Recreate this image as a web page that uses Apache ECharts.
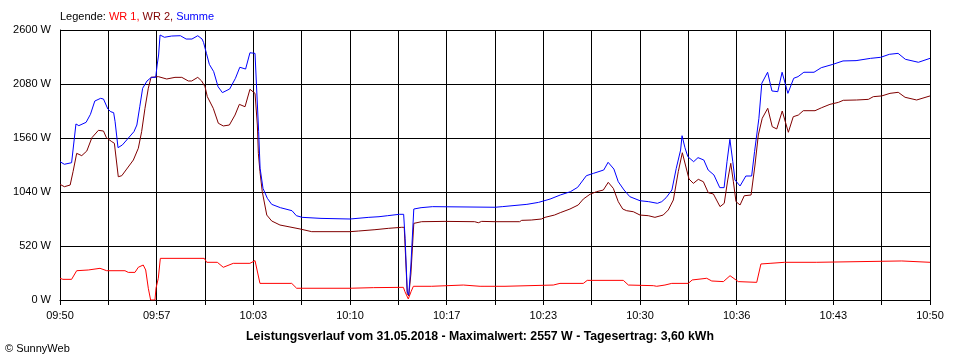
<!DOCTYPE html>
<html>
<head>
<meta charset="utf-8">
<script src="https://cdn.jsdelivr.net/npm/echarts@6/dist/echarts.min.js"></script>
<style>
html,body{margin:0;padding:0;background:#fff;}
#c{width:960px;height:360px;}
</style>
</head>
<body>
<div id="c"></div>
<script>
// Time in minutes after 09:50, power in W
var xTickLabels = ['09:50','','09:57','','10:03','','10:10','','10:17','','10:23','','10:30','','10:36','','10:43','','10:50'];
var yTickValues = [0, 520, 1040, 1560, 2080, 2600];

var wr1Time = [0,0.2,0.8,1.15,1.95,2.76,3.22,4.48,4.71,5.17,5.4,5.74,5.91,6.09,6.25,6.55,6.62,6.78,6.92,9.95,10.12,10.85,11.26,11.95,13.1,13.45,13.79,15.98,16.32,20.0,21.61,23.68,23.79,24.02,24.21,24.37,25.63,25.75,27.82,27.93,28.97,29.08,29.31,30.69,30.8,34.02,34.48,36.09,36.36,38.85,39.2,40.92,41.15,41.72,42.19,43.33,43.6,44.6,44.95,45.75,46.21,46.78,48.05,48.34,48.97,49.97,52.19,52.3,58.05,58.16,60.0];
var wr1Watt = [209,199,199,282,289,305,282,282,266,266,315,337,289,113,0,0,113,209,401,401,363,363,315,353,353,379,160,160,113,113,119,122,80,10,80,132,132,144,144,132,132,144,132,132,144,144,160,160,189,189,144,138,132,144,160,160,193,209,183,177,234,177,170,347,353,363,363,376,376,363,363];

var wr2Time = [0,0.3,0.7,0.9,1.15,1.5,1.85,2.2,2.65,3.0,3.2,3.57,3.75,4.02,4.26,4.6,5.06,5.4,5.63,5.86,6.09,6.28,6.78,7.36,7.93,8.4,8.85,9.08,9.5,9.77,10.0,10.16,10.57,10.92,11.26,11.68,12.07,12.37,12.76,13.1,13.45,13.61,13.68,13.79,13.95,14.26,14.6,15.17,15.86,16.55,17.36,20.0,20.57,21.72,22.64,23.57,23.74,23.8,23.95,24.05,24.2,24.4,24.94,26.55,28.6,28.85,29.08,30.0,31.7,31.84,32.5,33.2,33.45,34.1,34.5,35.17,35.74,36.09,36.55,37.0,37.47,37.81,38.16,38.5,38.81,39.08,39.54,40.0,40.57,41.03,41.6,41.95,42.3,42.64,42.92,43.22,43.38,43.68,44.02,44.37,44.71,45.06,45.52,45.81,46.05,46.26,46.44,46.62,46.9,47.19,47.66,47.93,48.16,48.43,48.81,49.12,49.43,49.81,50.23,50.57,50.92,51.26,52.07,52.53,53.1,53.68,54.02,54.94,55.75,56.09,56.67,57.24,57.81,58.28,59.08,60.0];
var wr2Watt = [1114,1091,1107,1236,1412,1390,1435,1563,1634,1627,1563,1525,1509,1187,1197,1261,1348,1461,1621,1846,2039,2144,2151,2128,2144,2144,2109,2109,2144,2109,2054,1958,1846,1702,1676,1685,1781,1884,1861,2029,1990,1685,1412,1236,1043,818,761,722,703,684,658,658,664,677,690,700,700,520,60,40,250,738,754,757,754,744,757,754,754,767,770,780,796,818,841,876,915,972,1018,1043,1059,1133,1075,947,876,860,850,818,812,796,818,867,963,1236,1418,1252,1165,1123,1162,1139,1033,1021,899,931,1156,1316,1139,947,915,1004,1011,1300,1589,1750,1846,1669,1647,1820,1615,1765,1781,1823,1823,1852,1884,1903,1923,1926,1932,1958,1965,1990,2000,1952,1926,1965];

var sumTime = [0,0.3,0.8,1.1,1.3,1.8,2.1,2.4,2.8,3.0,3.3,3.5,3.7,3.8,4.0,4.3,4.6,5.1,5.3,5.5,5.7,6.0,6.3,6.6,6.7,6.8,6.9,7.2,7.7,8.3,8.7,9.1,9.5,9.8,9.9,10.1,10.3,10.6,10.9,11.2,11.7,12.1,12.4,12.8,13.1,13.45,13.55,13.7,13.8,14.0,14.3,14.6,15.2,16.0,16.3,16.7,18.0,20.0,21.3,22.0,22.6,23.4,23.7,23.8,23.95,24.05,24.2,24.4,24.9,25.7,30.0,30.5,32.2,33.0,33.8,34.5,35.2,35.7,36.3,36.8,37.5,37.8,38.2,38.5,38.9,39.3,40.0,40.6,41.2,41.5,41.8,42.2,42.5,42.8,42.9,43.1,43.3,43.7,44.0,44.4,44.7,45.1,45.5,45.8,46.0,46.2,46.4,46.55,46.9,47.3,47.7,47.9,48.2,48.4,48.8,49.1,49.5,49.8,50.2,50.6,50.9,51.3,52.0,52.5,53.3,54.0,54.9,55.9,56.6,57.2,57.8,58.3,59.2,60.0];
var sumWatt = [1332,1307,1322,1695,1679,1711,1788,1916,1942,1935,1839,1813,1804,1717,1467,1493,1541,1621,1685,1861,2039,2109,2144,2144,2263,2359,2552,2530,2542,2545,2513,2513,2545,2513,2480,2375,2269,2199,2054,1997,2032,2135,2241,2224,2381,2375,2070,1621,1268,1075,979,921,889,860,812,796,786,780,796,802,812,825,825,594,80,48,337,876,889,899,893,899,921,940,972,1011,1043,1085,1197,1220,1252,1326,1261,1139,1059,995,956,947,931,947,985,1059,1268,1444,1582,1467,1380,1332,1371,1348,1252,1204,1082,1082,1332,1547,1332,1156,1098,1194,1194,1428,1750,2087,2193,2013,2006,2193,1990,2135,2151,2193,2193,2237,2269,2302,2305,2327,2337,2366,2375,2318,2289,2327];

var titleText = 'Leistungsverlauf vom 31.05.2018 - Maximalwert: 2557 W - Tagesertrag: 3,60 kWh';
var copyrightText = '\u00A9 SunnyWeb';

function pairs(t, w) {
  var out = [];
  for (var i = 0; i < t.length; i++) out.push([t[i] * 60, w[i]]);
  return out;
}

var FONT = '"Liberation Sans", Arial, sans-serif';
var chart = echarts.init(document.getElementById('c'), null, {renderer: 'canvas'});
chart.setOption({
  animation: false,
  backgroundColor: '#ffffff',
  grid: {left: 60, right: 30, top: 30, bottom: 60, containLabel: false},
  xAxis: {
    type: 'value', min: 0, max: 3600, interval: 200,
    axisLine: {show: true, lineStyle: {color: '#000', width: 1}},
    axisTick: {show: true, length: 5, lineStyle: {color: '#000'}},
    splitLine: {show: true, lineStyle: {color: '#000', width: 1}},
    axisLabel: {
      color: '#000', fontFamily: FONT, fontSize: 11, margin: 10,
      formatter: function (v) { return xTickLabels[Math.round(v / 200)] || ''; }
    }
  },
  yAxis: {
    type: 'value', min: yTickValues[0], max: yTickValues[yTickValues.length - 1], interval: 520,
    axisLine: {show: true, lineStyle: {color: '#000', width: 1}},
    axisTick: {show: false},
    splitLine: {show: true, lineStyle: {color: '#000', width: 1}},
    axisLabel: {
      color: '#000', fontFamily: FONT, fontSize: 11, margin: 9,
      formatter: function (v) { return v + ' W'; }
    }
  },
  series: [
    {name: 'WR 1', type: 'line', data: pairs(wr1Time, wr1Watt), showSymbol: false, symbol: 'none',
     lineStyle: {color: '#ff0000', width: 1}, itemStyle: {color: '#ff0000'}},
    {name: 'WR 2', type: 'line', data: pairs(wr2Time, wr2Watt), showSymbol: false, symbol: 'none',
     lineStyle: {color: '#800000', width: 1}, itemStyle: {color: '#800000'}},
    {name: 'Summe', type: 'line', data: pairs(sumTime, sumWatt), showSymbol: false, symbol: 'none',
     lineStyle: {color: '#0000ff', width: 1}, itemStyle: {color: '#0000ff'}}
  ],
  graphic: [
    {type: 'text', left: 60, top: 11, style: {
      text: '{a|Legende: }{b|WR 1, }{c|WR 2, }{d|Summe}',
      font: '11px ' + FONT,
      rich: {
        a: {fill: '#000', fontFamily: FONT, fontSize: 11},
        b: {fill: '#ff0000', fontFamily: FONT, fontSize: 11},
        c: {fill: '#800000', fontFamily: FONT, fontSize: 11},
        d: {fill: '#0000ff', fontFamily: FONT, fontSize: 11}
      }
    }},
    {type: 'text', x: 480, y: 337, style: {
      text: titleText, fill: '#000', font: 'bold 12.3px ' + FONT,
      textAlign: 'center', textVerticalAlign: 'middle'
    }},
    {type: 'text', x: 5, y: 349, style: {
      text: copyrightText, fill: '#000', font: '11px ' + FONT,
      textAlign: 'left', textVerticalAlign: 'middle'
    }}
  ]
});
</script>
</body>
</html>
